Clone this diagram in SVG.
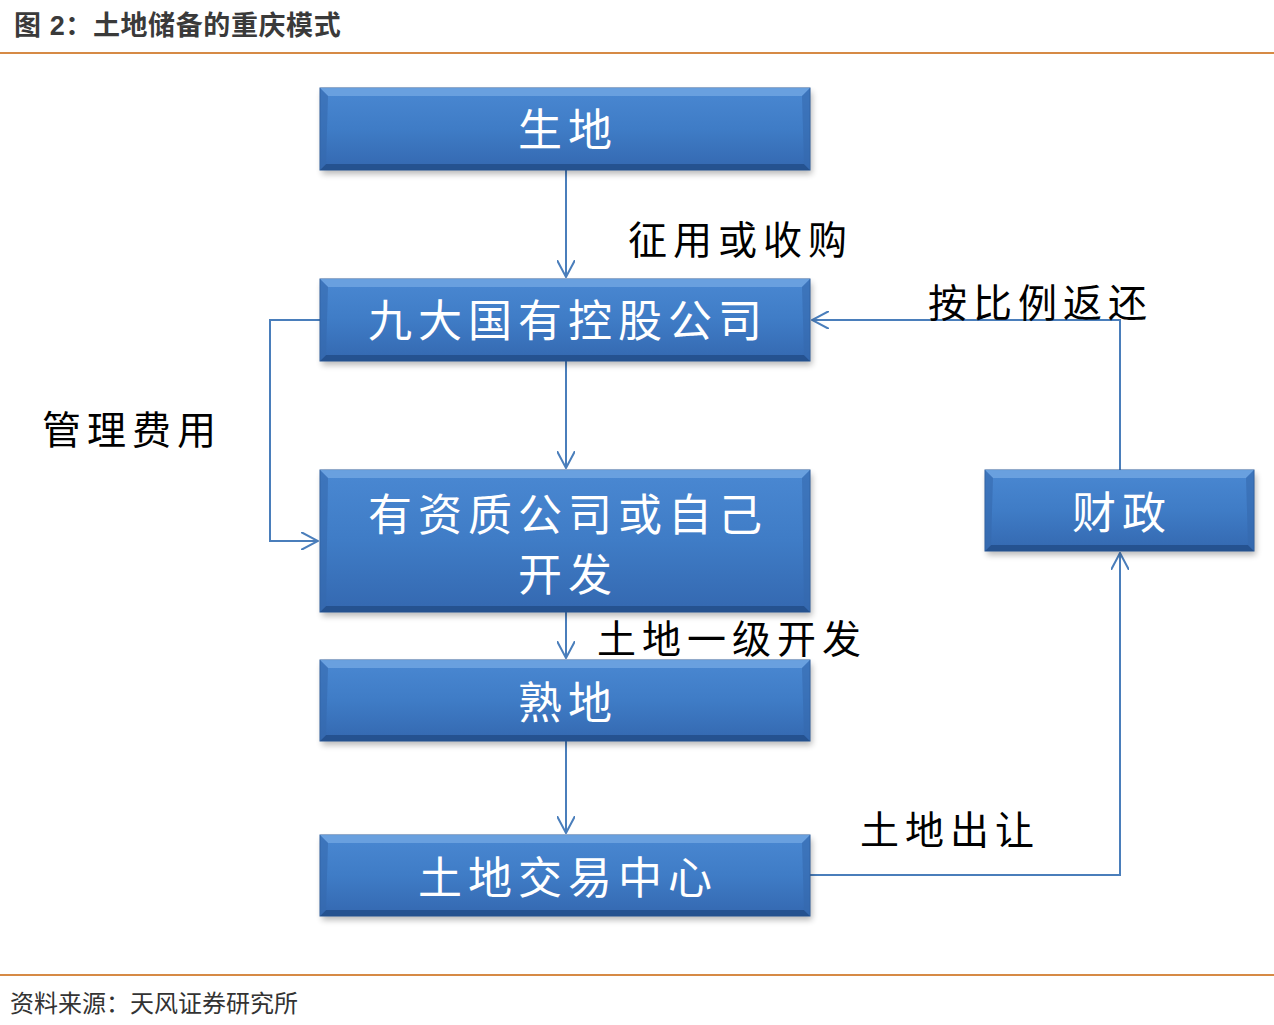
<svg xmlns="http://www.w3.org/2000/svg" width="1274" height="1025" viewBox="0 0 1274 1025">
<defs>
<style>
.title{font-family:"Liberation Sans","Noto Sans CJK SC",sans-serif;font-size:27px;font-weight:bold;fill:#3a3a3a;letter-spacing:0.6px}
.foot{font-family:"Liberation Sans","Noto Sans CJK SC",sans-serif;font-size:24px;fill:#333}
.box{fill:url(#gBox);stroke:#2b5b9a;stroke-width:1}
.shadow{fill:#000;opacity:0.28;filter:url(#blur)}
.bevT{fill:#6da3e0;opacity:0.9}
.bevB{fill:#23508c;opacity:0.9}
.bevS{fill:#3569ad;opacity:0.6}
.bt{font-family:"Noto Sans CJK SC",sans-serif;font-size:44px;fill:#fff;text-anchor:middle;letter-spacing:6px}
.lbl{font-family:"Noto Sans CJK SC",sans-serif;font-size:39px;fill:#000;letter-spacing:6px}
.conn{fill:none;stroke:#4a7ebb;stroke-width:2}
.rule{stroke:#d68a45;stroke-width:2}
</style>
<linearGradient id="gBox" x1="0" y1="0" x2="0" y2="1">
<stop offset="0" stop-color="#4a88d2"/>
<stop offset="0.5" stop-color="#3f7cc6"/>
<stop offset="1" stop-color="#3468b0"/>
</linearGradient>
<filter id="blur" x="-5%" y="-20%" width="110%" height="140%"><feGaussianBlur stdDeviation="3"/></filter>
<marker id="arrL" viewBox="0 0 18 18" refX="17" refY="9" markerWidth="18" markerHeight="18" markerUnits="userSpaceOnUse" orient="auto">
<path d="M0,0 L17,9 L0,18" fill="none" stroke="#4a7ebb" stroke-width="2"/>
</marker>
</defs>
<rect width="1274" height="1025" fill="#fff"/>
<text class="title" x="14" y="35">图 2：土地储备的重庆模式</text>
<line class="rule" x1="0" y1="53" x2="1274" y2="53"/>
<line class="rule" x1="0" y1="975" x2="1274" y2="975"/>
<text class="foot" x="10" y="1012">资料来源：天风证券研究所</text>

<g id="connectors">
<line class="conn" x1="566" y1="170" x2="566" y2="277" marker-end="url(#arrL)"/>
<line class="conn" x1="566" y1="361" x2="566" y2="468" marker-end="url(#arrL)"/>
<line class="conn" x1="566" y1="612" x2="566" y2="658" marker-end="url(#arrL)"/>
<line class="conn" x1="566" y1="741" x2="566" y2="833" marker-end="url(#arrL)"/>
<polyline class="conn" points="320,320 270,320 270,541 318,541" marker-end="url(#arrL)"/>
<polyline class="conn" points="810,875 1120,875 1120,553" marker-end="url(#arrL)"/>
<polyline class="conn" points="1120,470 1120,320 812,320" marker-end="url(#arrL)"/>
</g>

<g id="n1">
<rect class="shadow" x="322" y="92" width="490" height="82"/>
<rect class="box" x="320" y="88" width="490" height="82"/>
<polygon class="bevT" points="320,88 810,88 802,96 328,96"/>
<polygon class="bevB" points="320,170 810,170 804,164 326,164"/>
<polygon class="bevS" points="320,88 328,96 326,164 320,170"/>
<polygon class="bevS" points="810,88 802,96 804,164 810,170"/>
<text class="bt" x="568" y="146">生地</text>
</g>

<g id="n2">
<rect class="shadow" x="322" y="283" width="490" height="82"/>
<rect class="box" x="320" y="279" width="490" height="82"/>
<polygon class="bevT" points="320,279 810,279 802,287 328,287"/>
<polygon class="bevB" points="320,361 810,361 804,355 326,355"/>
<polygon class="bevS" points="320,279 328,287 326,355 320,361"/>
<polygon class="bevS" points="810,279 802,287 804,355 810,361"/>
<text class="bt" x="568" y="337">九大国有控股公司</text>
</g>

<g id="n3">
<rect class="shadow" x="322" y="474" width="490" height="142"/>
<rect class="box" x="320" y="470" width="490" height="142"/>
<polygon class="bevT" points="320,470 810,470 802,478 328,478"/>
<polygon class="bevB" points="320,612 810,612 804,606 326,606"/>
<polygon class="bevS" points="320,470 328,478 326,606 320,612"/>
<polygon class="bevS" points="810,470 802,478 804,606 810,612"/>
<text class="bt" x="568" y="531">有资质公司或自己</text>
<text class="bt" x="568" y="591">开发</text>
</g>

<g id="n4">
<rect class="shadow" x="322" y="664" width="490" height="81"/>
<rect class="box" x="320" y="660" width="490" height="81"/>
<polygon class="bevT" points="320,660 810,660 802,668 328,668"/>
<polygon class="bevB" points="320,741 810,741 804,735 326,735"/>
<polygon class="bevS" points="320,660 328,668 326,735 320,741"/>
<polygon class="bevS" points="810,660 802,668 804,735 810,741"/>
<text class="bt" x="568" y="719">熟地</text>
</g>

<g id="n5">
<rect class="shadow" x="322" y="839" width="490" height="81"/>
<rect class="box" x="320" y="835" width="490" height="81"/>
<polygon class="bevT" points="320,835 810,835 802,843 328,843"/>
<polygon class="bevB" points="320,916 810,916 804,910 326,910"/>
<polygon class="bevS" points="320,835 328,843 326,910 320,916"/>
<polygon class="bevS" points="810,835 802,843 804,910 810,916"/>
<text class="bt" x="568" y="894">土地交易中心</text>
</g>

<g id="n6">
<rect class="shadow" x="987" y="474" width="269" height="81"/>
<rect class="box" x="985" y="470" width="269" height="81"/>
<polygon class="bevT" points="985,470 1254,470 1246,478 993,478"/>
<polygon class="bevB" points="985,551 1254,551 1248,545 991,545"/>
<polygon class="bevS" points="985,470 993,478 991,545 985,551"/>
<polygon class="bevS" points="1254,470 1246,478 1248,545 1254,551"/>
<text class="bt" x="1122" y="529">财政</text>
</g>

<g id="labels">
<text class="lbl" x="628" y="254">征用或收购</text>
<text class="lbl" x="928" y="317">按比例返还</text>
<text class="lbl" x="42" y="444">管理费用</text>
<text class="lbl" x="597" y="653">土地一级开发</text>
<text class="lbl" x="860" y="844">土地出让</text>
</g>
</svg>
